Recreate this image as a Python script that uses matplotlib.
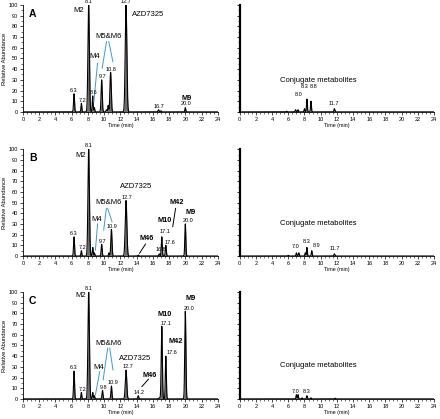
import numpy as np
import matplotlib
matplotlib.use("Agg")
import matplotlib.pyplot as plt
from matplotlib.ticker import MultipleLocator

plt.rcParams['font.family'] = ['Liberation Sans', 'DejaVu Sans']

# ---------------- data: peaks (retention time, relative abundance, width) ----------------
A_left_rt = [6.3, 7.2, 8.1, 8.6, 8.8, 9.7, 10.3, 10.5, 10.8, 12.7, 16.7, 17.0, 20.0]
A_left_h = [17, 8, 100, 15, 4, 30, 2, 6, 37, 100, 2, 1, 4]
A_left_w = [0.06, 0.05, 0.09, 0.05, 0.05, 0.07, 0.06, 0.05, 0.08, 0.10, 0.06, 0.06, 0.05]

A_right_rt = [5.8, 6.9, 7.2, 8.0, 8.3, 8.8, 11.7]
A_right_h = [0.6, 2, 2, 3, 12, 10, 3]
A_right_w = [0.05, 0.05, 0.05, 0.05, 0.05, 0.05, 0.06]

B_left_rt = [6.3, 7.2, 8.1, 8.6, 8.8, 9.7, 10.6, 10.9, 12.7, 14.2, 16.8, 17.1, 17.6, 20.0]
B_left_h = [18, 5, 100, 8, 3, 11, 3, 25, 52, 0.8, 2, 18, 10, 30]
B_left_w = [0.06, 0.05, 0.09, 0.05, 0.05, 0.06, 0.05, 0.07, 0.10, 0.06, 0.06, 0.06, 0.06, 0.06]

B_right_rt = [6.0, 7.0, 7.3, 8.1, 8.3, 8.9, 11.7]
B_right_h = [0.6, 3, 3, 3, 8, 5, 2]
B_right_w = [0.05, 0.05, 0.05, 0.05, 0.05, 0.05, 0.06]

C_left_rt = [6.3, 7.2, 8.1, 8.6, 8.8, 9.8, 10.9, 12.7, 14.2, 16.8, 17.1, 17.6, 20.0]
C_left_h = [26, 6, 100, 6, 3, 8, 12, 27, 3, 1, 68, 40, 82]
C_left_w = [0.06, 0.05, 0.09, 0.05, 0.05, 0.06, 0.06, 0.09, 0.06, 0.06, 0.07, 0.06, 0.07]

C_right_rt = [7.0, 7.2, 7.7, 8.3, 8.8, 11.8]
C_right_h = [4, 4, 1, 3, 1, 0.6]
C_right_w = [0.05, 0.05, 0.05, 0.05, 0.05, 0.06]

# peak number labels: (text, x, y)
A_left_nums = [("8.1", 8.1, 103), ("12.7", 12.7, 103), ("6.3", 6.3, 20), ("7.2", 7.3, 11),
               ("8.6", 8.7, 18.5), ("9.7", 9.8, 33), ("10.8", 10.9, 40), ("16.7", 16.8, 5), ("20.0", 20.1, 7.5)]
A_right_nums = [("8.0", 7.3, 16), ("8.3", 8.05, 24), ("8.8", 9.1, 24), ("11.7", 11.6, 8)]
B_left_nums = [("8.1", 8.1, 103), ("6.3", 6.3, 21), ("7.2", 7.3, 8), ("9.7", 9.8, 14), ("10.9", 11.0, 28),
               ("12.7", 12.8, 55), ("16.8", 17.0, 6), ("17.1", 17.5, 22.5), ("17.6", 18.1, 13), ("20.0", 20.4, 33)]
B_right_nums = [("7.0", 6.9, 9), ("8.3", 8.3, 14), ("8.9", 9.5, 9.5), ("11.7", 11.8, 7)]
C_left_nums = [("8.1", 8.1, 103), ("6.3", 6.3, 29), ("7.2", 7.3, 9), ("9.8", 9.9, 11), ("10.9", 11.1, 15),
               ("12.7", 12.9, 30), ("14.2", 14.3, 6), ("17.1", 17.6, 71), ("17.6", 18.3, 43), ("20.0", 20.5, 85)]
C_right_nums = [("7.0", 6.9, 7), ("8.3", 8.3, 7)]

# compound labels: (text, x, y, bold)
A_cmp = [("M2", 6.9, 95, False), ("AZD7325", 15.4, 91.5, False), ("M5&M6", 10.6, 71, False),
         ("M4", 8.85, 52, False), ("M9", 20.2, 12.5, True)]
B_cmp = [("M2", 7.1, 94, False), ("AZD7325", 14.0, 65, False), ("M5&M6", 10.55, 50.5, False),
         ("M4", 9.1, 34.6, False), ("M46", 15.3, 16, True), ("M42", 18.9, 50, True),
         ("M10", 17.45, 33, True), ("M9", 20.6, 41, True)]
C_cmp = [("M2", 7.1, 97, False), ("AZD7325", 13.8, 37.7, False), ("M5&M6", 10.6, 51.4, False),
         ("M4", 9.35, 29.6, False), ("M46", 15.6, 22, True), ("M10", 17.45, 79.4, True),
         ("M42", 18.8, 53.6, True), ("M9", 20.7, 93.5, True)]

# pointer lines: ((x0, y0), (x1, y1), color)
BLUE = "#3d9ad6"
A_lines = [((9.19, 45.5), (8.74, 9.6), BLUE), ((10.3, 65.7), (9.76, 40.8), BLUE), ((10.58, 65.7), (11.08, 47), BLUE)]
B_lines = [((9.2, 30), (8.93, 5.6), BLUE), ((10.28, 44.6), (9.95, 24.3), BLUE), ((10.44, 44.6), (10.98, 32), BLUE),
           ((15.1, 11.2), (14.36, 2.5), "black"), ((18.8, 44.5), (18.45, 27.4), "black")]
C_lines = [((9.46, 25.5), (8.93, 3.7), BLUE), ((10.44, 47.4), (9.88, 17.8), BLUE), ((10.69, 47.4), (11.1, 27), BLUE),
           ((15.46, 18.4), (14.65, 11.5), "black")]

panels = [
    ("A", A_left_rt, A_left_h, A_left_w, A_left_nums, A_cmp, A_lines,
     A_right_rt, A_right_h, A_right_w, A_right_nums, 29),
    ("B", B_left_rt, B_left_h, B_left_w, B_left_nums, B_cmp, B_lines,
     B_right_rt, B_right_h, B_right_w, B_right_nums, 30.5),
    ("C", C_left_rt, C_left_h, C_left_w, C_left_nums, C_cmp, C_lines,
     C_right_rt, C_right_h, C_right_w, C_right_nums, 31),
]

t = np.linspace(0, 24, 4801)


def trace(rts, hs, ws):
    y = np.zeros_like(t)
    for r, h, w in zip(rts, hs, ws):
        y += h * np.exp(-0.5 * ((t - r) / w) ** 2)
    return y


def style_axes(ax, right=False):
    ax.set_xlim(0, 24)
    ax.set_ylim(0, 100)
    for s in ("top", "right"):
        ax.spines[s].set_visible(False)
    ax.spines["left"].set_linewidth(1.6 if right else 0.6)
    ax.spines["bottom"].set_linewidth(0.6)
    ax.xaxis.set_major_locator(MultipleLocator(2))
    ax.xaxis.set_minor_locator(MultipleLocator(0.5))
    ax.yaxis.set_major_locator(MultipleLocator(10))
    ax.yaxis.set_minor_locator(MultipleLocator(5))
    ax.tick_params(axis="both", which="major", labelsize=4, length=2, width=0.5, pad=1.5)
    ax.tick_params(axis="both", which="minor", length=1.2, width=0.4)
    if right:
        ax.tick_params(axis="y", labelleft=False, length=2.5, width=0.6)
    ax.set_xlabel("Time (min)", fontsize=3.8, labelpad=1)


fig = plt.figure(figsize=(4.4, 4.19), dpi=100)
bottoms = [0.733, 0.389, 0.048]
H = 0.255
for (lab, lrt, lh, lw, lnums, cmps, lines, rrt, rh, rw, rnums, cy), b in zip(panels, bottoms):
    axL = fig.add_axes([0.052, b, 0.443, H])
    axR = fig.add_axes([0.545, b, 0.441, H])
    yL = trace(lrt, lh, lw)
    yR = trace(rrt, rh, rw)
    for ax, y in ((axL, yL), (axR, yR)):
        ax.fill_between(t, 0, y, color="#6e6e6e", lw=0)
        ax.plot(t, y, color="black", lw=0.8)
    style_axes(axL)
    style_axes(axR, right=True)
    axL.set_ylabel("Relative Abundance", fontsize=4.2, labelpad=1.5)
    axL.text(1.2, 92, lab, fontsize=7.5, fontweight="bold", ha="center", va="center")
    for txt, x, y in lnums:
        axL.text(x, y, txt, fontsize=4, ha="center", va="center", clip_on=False)
    for txt, x, y in rnums:
        axR.text(x, y, txt, fontsize=4, ha="center", va="center", clip_on=False)
    for txt, x, y, bold in cmps:
        axL.text(x, y, txt, fontsize=5.5 if not bold else 5.3,
                 fontweight="bold" if bold else "normal", ha="center", va="center")
    for (x0, y0), (x1, y1), c in lines:
        axL.plot([x0, x1], [y0, y1], color=c, lw=0.7)
    axR.text(9.7, cy, "Conjugate metabolites", fontsize=5.5, ha="center", va="center")

fig.savefig("out.png", dpi=100)
